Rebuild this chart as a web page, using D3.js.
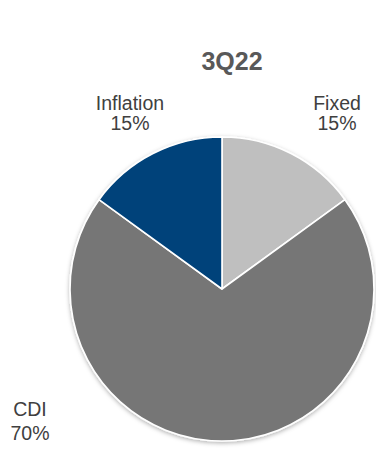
<!DOCTYPE html>
<html>
<head>
<meta charset="utf-8">
<script src="https://cdn.jsdelivr.net/npm/d3@7"></script>
<style>
  html, body { margin: 0; padding: 0; background: #ffffff; }
  svg { display: block; }
</style>
</head>
<body>
<svg id="chart" width="376" height="449"></svg>
<script>
// Portfolio breakdown by index, 3Q22
const title = "3Q22";
const categories = ["Fixed", "CDI", "Inflation"];
const shares = [15, 70, 15];
const colors = ["#bfbfbf", "#767676", "#00427a"];

const W = 376, H = 449;
const cx = 222, cy = 289, radius = 152;

const svg = d3.select("#chart");
const fontFamily = "'Liberation Sans', Arial, Helvetica, sans-serif";

const defs = svg.append("defs");
const shadow = defs.append("filter")
  .attr("id", "pieShadow")
  .attr("x", "-10%").attr("y", "-10%")
  .attr("width", "120%").attr("height", "120%");
shadow.append("feDropShadow")
  .attr("dx", 0).attr("dy", 1.5)
  .attr("stdDeviation", 2)
  .attr("flood-color", "#000")
  .attr("flood-opacity", 0.3);

const color = d3.scaleOrdinal().domain(categories).range(colors);

const pie = d3.pie().sort(null).value(d => d.value);
const arc = d3.arc().innerRadius(0).outerRadius(radius);

const data = categories.map((c, i) => ({ name: c, value: shares[i] }));

const g = svg.append("g")
  .attr("transform", `translate(${cx},${cy})`)
  .attr("filter", "url(#pieShadow)");

g.selectAll("path")
  .data(pie(data))
  .join("path")
  .attr("d", arc)
  .attr("fill", d => color(d.data.name))
  .attr("stroke", "#ffffff")
  .attr("stroke-width", 1.6)
  .attr("stroke-linejoin", "round");

// Title
svg.append("text")
  .attr("x", 232)
  .attr("y", 70)
  .attr("text-anchor", "middle")
  .attr("font-family", fontFamily)
  .attr("font-weight", "bold")
  .attr("font-size", 25)
  .attr("fill", "#595959")
  .text(title);

// Slice labels: name on the first line, share on the second
const labelPos = {
  "Fixed":     { x: 337, y: 110, gap: 20 },
  "Inflation": { x: 130, y: 110, gap: 20 },
  "CDI":       { x: 30,  y: 416, gap: 24 }
};

const labels = svg.selectAll("text.slice-label")
  .data(data)
  .join("text")
  .attr("class", "slice-label")
  .attr("text-anchor", "middle")
  .attr("font-family", fontFamily)
  .attr("font-size", 19.5)
  .attr("fill", "#404040");

labels.append("tspan")
  .attr("x", d => labelPos[d.name].x)
  .attr("y", d => labelPos[d.name].y)
  .text(d => d.name);

labels.append("tspan")
  .attr("x", d => labelPos[d.name].x)
  .attr("y", d => labelPos[d.name].y + labelPos[d.name].gap)
  .text(d => `${d.value}%`);
</script>
</body>
</html>
